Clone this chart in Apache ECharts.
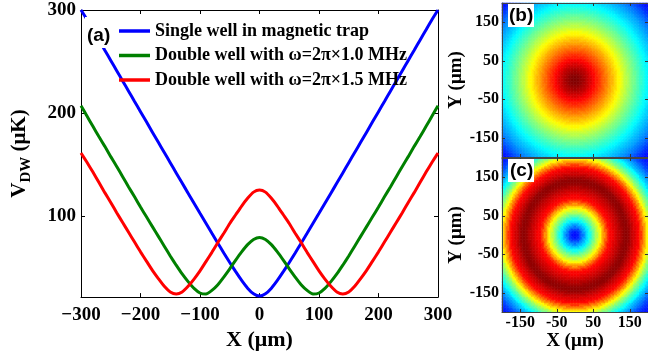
<!DOCTYPE html>
<html>
<head>
<meta charset="utf-8">
<script src="https://cdn.jsdelivr.net/npm/echarts@6/dist/echarts.min.js"></script>
<style>
  html, body { margin: 0; padding: 0; background: #fff; }
  #chart { width: 648px; height: 356px; }
</style>
</head>
<body>
<div id="chart"></div>
<script>
// x positions (µm) of the sampled profiles in (a)
const xPos = [-300, -290, -280, -270, -260, -250, -240, -230, -220, -210,
  -200, -190, -180, -170, -160, -150, -140, -130, -120, -110,
  -100, -90, -80, -70, -60, -50, -40, -30, -20, -10,
  0, 10, 20, 30, 40, 50, 60, 70, 80, 90,
  100, 110, 120, 130, 140, 150, 160, 170, 180, 190,
  200, 210, 220, 230, 240, 250, 260, 270, 280, 290, 300]

// V_DW (µK)
const singleWell = [300, 290.8, 280.9, 270.9, 260.9, 251, 241, 231, 221.1, 211.1,
  201.2, 191.3, 181.3, 171.4, 161.5, 151.6, 141.7, 131.8, 122, 112.2,
  102.4, 92.7, 83, 73.4, 63.9, 54.6, 45.7, 37.2, 29.7, 24.2,
  22,
  24.2, 29.7, 37.2, 45.7, 54.6, 63.9, 73.4, 83, 92.7, 102.4,
  112.2, 122, 131.8, 141.7, 151.6, 161.5, 171.4, 181.3, 191.3, 201.2,
  211.1, 221.1, 231, 241, 251, 260.9, 270.9, 280.9, 290.8, 300]

const doubleWell10 = [207, 197, 187, 177, 167.5, 157.5, 148, 138, 128, 118.5,
  108.5, 99, 89.5, 80, 70.5, 61, 52, 43.5, 36, 29.5,
  25, 24, 27.5, 33, 40.5, 48.5, 57, 65, 72, 77,
  79,
  77, 72, 65, 57, 48.5, 40.5, 33, 27.5, 24, 25,
  29.5, 36, 43.5, 52, 61, 70.5, 80, 89.5, 99, 108.5,
  118.5, 128, 138, 148, 157.5, 167.5, 177, 187, 197, 207]

const doubleWell15 = [161, 152, 142.5, 132.5, 122.5, 113, 103, 93.5, 84, 74.5,
  65, 56, 47, 39, 31.5, 26, 24, 26, 31.5, 38.5,
  46.5, 55.5, 64.5, 74, 83, 92.5, 101, 109.5, 117, 123,
  125,
  123, 117, 109.5, 101, 92.5, 83, 74, 64.5, 55.5, 46.5,
  38.5, 31.5, 26, 24, 26, 31.5, 39, 47, 56, 65,
  74.5, 84, 93.5, 103, 113, 122.5, 132.5, 142.5, 152, 161]

const seriesNames = [
  'Single well in magnetic trap',
  'Double well with ω=2π×1.0 MHz',
  'Double well with ω=2π×1.5 MHz'
]
const seriesColors = ['#0000ff', '#008000', '#ff0000']
const mainYTicks = [100, 200, 300]

// maps (b) and (c): colour level (0 = bottom of jet, 1 = top) against radius (µm)
const mapRadius = [0, 5, 10, 15, 20, 25, 30, 35, 40, 45,
  50, 55, 60, 65, 70, 75, 80, 85, 90, 95,
  100, 105, 110, 115, 120, 125, 130, 135, 140, 145,
  150, 155, 160, 165, 170, 175, 180, 185, 190, 195,
  200, 205, 210, 215, 220, 225, 230, 235, 240, 245,
  250, 255, 260, 265, 270, 275, 280, 285, 290]

const levelB = [1.0, 0.998, 0.993, 0.984, 0.974, 0.962, 0.948, 0.934, 0.917, 0.9,
  0.883, 0.866, 0.848, 0.83, 0.812, 0.794, 0.776, 0.758, 0.74, 0.722,
  0.704, 0.686, 0.668, 0.65, 0.632, 0.614, 0.596, 0.578, 0.56, 0.543,
  0.526, 0.509, 0.492, 0.476, 0.46, 0.444, 0.428, 0.413, 0.398, 0.383,
  0.368, 0.353, 0.339, 0.325, 0.311, 0.297, 0.283, 0.269, 0.255, 0.238,
  0.221, 0.205, 0.188, 0.171, 0.154, 0.137, 0.12, 0.103, 0.086]

const levelC = [0.13, 0.14, 0.16, 0.19, 0.23, 0.27, 0.31, 0.35, 0.39, 0.43,
  0.47, 0.51, 0.55, 0.59, 0.63, 0.68, 0.73, 0.78, 0.83, 0.865,
  0.88, 0.895, 0.91, 0.925, 0.94, 0.955, 0.97, 0.98, 0.985, 0.98,
  0.965, 0.945, 0.925, 0.905, 0.89, 0.87, 0.83, 0.78, 0.73, 0.68,
  0.63, 0.58, 0.53, 0.49, 0.45, 0.41, 0.375, 0.34, 0.31, 0.28,
  0.25, 0.225, 0.2, 0.18, 0.16, 0.145, 0.13, 0.12, 0.11]

const mapTicks = [-150, -50, 50, 150]

const jet = ['#000080', '#0000ff', '#0080ff', '#00ffff', '#80ff80',
  '#ffff00', '#ff8000', '#ff0000', '#800000']

// cell grid for the maps; each cell takes the level at its (nearest) radius
const cellSize = 4
const cells = []
for (let c = -200 + cellSize / 2; c < 200; c += cellSize) cells.push(c)

function radialMap(levels) {
  const out = []
  const step = mapRadius[1] - mapRadius[0]
  cells.forEach((x, i) => {
    cells.forEach((y, j) => {
      const k = Math.min(Math.round(Math.hypot(x, y) / step), levels.length - 1)
      out.push([i, j, levels[k]])
    })
  })
  return out
}
const mapB = radialMap(levelB)
const mapC = radialMap(levelC)

const serif = 'Liberation Serif'
const black = '#000'

const chart = echarts.init(document.getElementById('chart'))

function boxAxis(extra) {
  return Object.assign({
    type: 'value',
    axisLine: { show: true, onZero: false, lineStyle: { color: black, width: 1 } },
    axisTick: { show: true, inside: true, length: 4, lineStyle: { color: black } },
    axisLabel: { show: false },
    splitLine: { show: false }
  }, extra)
}

function mapAxis(grid, pos, labels, extra) {
  return Object.assign({
    gridIndex: grid,
    type: 'value',
    position: pos,
    min: -200,
    max: 200,
    axisLine: { show: true, onZero: false, lineStyle: { color: '#444', width: 1 } },
    axisTick: { show: true, inside: true, length: 3, customValues: mapTicks, lineStyle: { color: '#333' } },
    axisLabel: {
      show: labels,
      customValues: mapTicks,
      fontFamily: serif, fontWeight: 'bold', fontSize: 16, color: black, margin: 3
    },
    splitLine: { show: false },
    z: 10
  }, extra)
}

const catAxis = grid => ({ gridIndex: grid, type: 'category', data: cells, show: false })

const mapName = {
  nameLocation: 'middle',
  nameTextStyle: { fontFamily: serif, fontWeight: 'bold', fontSize: 19, color: black }
}

chart.setOption({
  animation: false,
  grid: [
    { left: 81, top: 10, width: 357, height: 293 },
    { left: 502, top: 3, width: 153, height: 154 },
    { left: 502, top: 158, width: 153, height: 154 }
  ],
  legend: {
    orient: 'vertical',
    left: 119,
    top: 22,
    padding: 0,
    itemGap: 6.5,
    itemWidth: 31,
    itemHeight: 3.5,
    icon: 'rect',
    data: seriesNames,
    textStyle: { fontFamily: serif, fontWeight: 'bold', fontSize: 18, color: black }
  },
  xAxis: [
    boxAxis({
      gridIndex: 0, position: 'bottom', min: -300, max: 300, interval: 100,
      axisLabel: {
        show: true, fontFamily: serif, fontWeight: 'bold', fontSize: 19, color: black, margin: 8,
        formatter: v => String(v).replace('-', '−')
      },
      name: 'X (μm)', nameLocation: 'middle', nameGap: 27,
      nameTextStyle: { fontFamily: serif, fontWeight: 'bold', fontSize: 22, color: black }
    }),
    boxAxis({ gridIndex: 0, position: 'top', min: -300, max: 300, interval: 100 }),
    catAxis(1),
    mapAxis(1, 'bottom', false),
    mapAxis(1, 'top', false),
    catAxis(2),
    mapAxis(2, 'bottom', true, Object.assign({ name: 'X (μm)', nameGap: 17 }, mapName)),
    mapAxis(2, 'top', false)
  ],
  yAxis: [
    boxAxis({
      gridIndex: 0, position: 'left', min: 21, max: 300,
      axisTick: { show: true, inside: true, length: 4, customValues: mainYTicks, lineStyle: { color: black } },
      axisLabel: {
        show: true, customValues: mainYTicks,
        fontFamily: serif, fontWeight: 'bold', fontSize: 19, color: black, margin: 5
      },
      name: '{v|V}{s|DW}{v| (μK)}', nameLocation: 'middle', nameGap: 47,
      nameTextStyle: {
        rich: {
          v: { fontFamily: serif, fontWeight: 'bold', fontSize: 21, color: black, lineHeight: 28 },
          s: { fontFamily: serif, fontWeight: 'bold', fontSize: 15, color: black, lineHeight: 14, verticalAlign: 'bottom' }
        }
      }
    }),
    boxAxis({
      gridIndex: 0, position: 'right', min: 21, max: 300,
      axisTick: { show: true, inside: true, length: 4, customValues: mainYTicks, lineStyle: { color: black } }
    }),
    catAxis(1),
    mapAxis(1, 'left', true, Object.assign({ name: 'Y (μm)', nameGap: 31 }, mapName)),
    mapAxis(1, 'right', false),
    catAxis(2),
    mapAxis(2, 'left', true, Object.assign({ name: 'Y (μm)', nameGap: 31 }, mapName)),
    mapAxis(2, 'right', false)
  ],
  visualMap: [
    { type: 'continuous', show: false, seriesIndex: [3, 4], min: 0, max: 1, inRange: { color: jet } }
  ],
  series: [
    ...[singleWell, doubleWell10, doubleWell15].map((vals, i) => ({
      name: seriesNames[i],
      type: 'line',
      xAxisIndex: 0,
      yAxisIndex: 0,
      data: xPos.map((x, k) => [x, vals[k]]),
      showSymbol: false,
      smooth: 0.2,
      color: seriesColors[i],
      lineStyle: { width: 3, color: seriesColors[i] }
    })),
    { type: 'heatmap', xAxisIndex: 2, yAxisIndex: 2, data: mapB, progressive: 0, itemStyle: { borderWidth: 0 } },
    { type: 'heatmap', xAxisIndex: 5, yAxisIndex: 5, data: mapC, progressive: 0, itemStyle: { borderWidth: 0 } }
  ],
  graphic: [
    { type: 'rect', left: 85, top: 17, z: 99, shape: { width: 30, height: 31 }, style: { fill: '#fff' } },
    {
      type: 'text', left: 87, top: 26, z: 100,
      style: { text: '(a)', font: 'bold 19px "Liberation Sans"', fill: black }
    },
    { type: 'rect', left: 508, top: 4, z: 99, shape: { width: 26, height: 23 }, style: { fill: '#fff' } },
    {
      type: 'text', left: 509, top: 6, z: 100,
      style: { text: '(b)', font: 'bold 19px "Liberation Sans"', fill: black }
    },
    { type: 'rect', left: 508, top: 159, z: 99, shape: { width: 26, height: 23 }, style: { fill: '#fff' } },
    {
      type: 'text', left: 510, top: 161, z: 100,
      style: { text: '(c)', font: 'bold 19px "Liberation Sans"', fill: black }
    }
  ]
})
</script>
</body>
</html>
